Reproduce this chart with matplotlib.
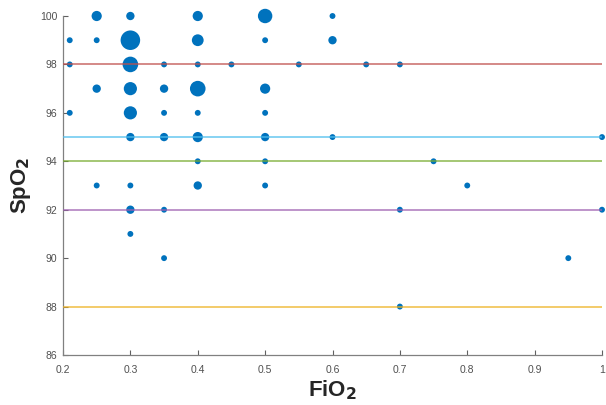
import matplotlib
matplotlib.use("Agg")
import matplotlib.pyplot as plt

# FiO2 values, SpO2 values and counts (bubble size)
fio2 = [0.25, 0.30, 0.40, 0.50, 0.60,
        0.21, 0.25, 0.30, 0.40, 0.50, 0.60,
        0.21, 0.30, 0.35, 0.40, 0.45, 0.55, 0.65, 0.70,
        0.25, 0.30, 0.35, 0.40, 0.50,
        0.21, 0.30, 0.35, 0.40, 0.50,
        0.30, 0.35, 0.40, 0.50, 0.60, 1.00,
        0.40, 0.50, 0.75,
        0.25, 0.30, 0.40, 0.50, 0.80,
        0.30, 0.35, 0.70, 1.00,
        0.30,
        0.35, 0.95,
        0.70]
spo2 = [100, 100, 100, 100, 100,
        99, 99, 99, 99, 99, 99,
        98, 98, 98, 98, 98, 98, 98, 98,
        97, 97, 97, 97, 97,
        96, 96, 96, 96, 96,
        95, 95, 95, 95, 95, 95,
        94, 94, 94,
        93, 93, 93, 93, 93,
        92, 92, 92, 92,
        91,
        90, 90,
        88]
counts = [3, 2, 3, 6, 1,
          1, 1, 11, 4, 1, 2,
          1, 7, 1, 1, 1, 1, 1, 1,
          2, 5, 2, 7, 3,
          1, 5, 1, 1, 1,
          2, 2, 3, 2, 1, 1,
          1, 1, 1,
          1, 1, 2, 1, 1,
          2, 1, 1, 1,
          1,
          1, 1,
          1]

ref_levels = [98, 95, 94, 92, 88]
ref_colors = ["#C0504D", "#4DBEEE", "#77AC30", "#9E5FB0", "#EDB120"]

x_ticks = [0.2, 0.3, 0.4, 0.5, 0.6, 0.7, 0.8, 0.9, 1.0]
x_tick_labels = ["0.2", "0.3", "0.4", "0.5", "0.6", "0.7", "0.8", "0.9", "1"]
y_ticks = [86, 88, 90, 92, 94, 96, 98, 100]

plt.rcParams['font.family'] = ['Liberation Sans', 'DejaVu Sans']

fig = plt.figure(figsize=(6.06, 4.05), dpi=100)
ax = fig.add_axes([63 / 606, 1 - 355 / 405, (602 - 63) / 606, (355 - 16) / 405])

base = 18
ax.scatter(fio2, spo2, s=[base * c for c in counts], color="#0072BD",
           edgecolors="none", zorder=2, clip_on=False)

for lvl, col in zip(ref_levels, ref_colors):
    ax.plot([0.2, 1.0], [lvl, lvl], color=col, lw=1.1, alpha=0.85, zorder=3)

ax.set_xlim(0.2, 1.0)
ax.set_ylim(86, 100)
ax.set_xticks(x_ticks)
ax.set_xticklabels(x_tick_labels)
ax.set_yticks(y_ticks)

for s in ["top", "right"]:
    ax.spines[s].set_visible(False)
for s in ["left", "bottom"]:
    ax.spines[s].set_color("#808080")
    ax.spines[s].set_linewidth(0.9)

ax.tick_params(direction="in", length=3.5, width=0.8, color="#606060",
               labelsize=7.5, labelcolor="#505050")
ax.tick_params(axis="x", pad=7)
ax.tick_params(axis="y", pad=4)

ax.set_xlabel("FiO$_\\mathbf{2}$", fontsize=16, fontweight="bold", color="#262626", labelpad=3)
ax.set_ylabel("SpO$_\\mathbf{2}$", fontsize=16, fontweight="bold", color="#262626", labelpad=5)

fig.savefig("out.png", dpi=100)
